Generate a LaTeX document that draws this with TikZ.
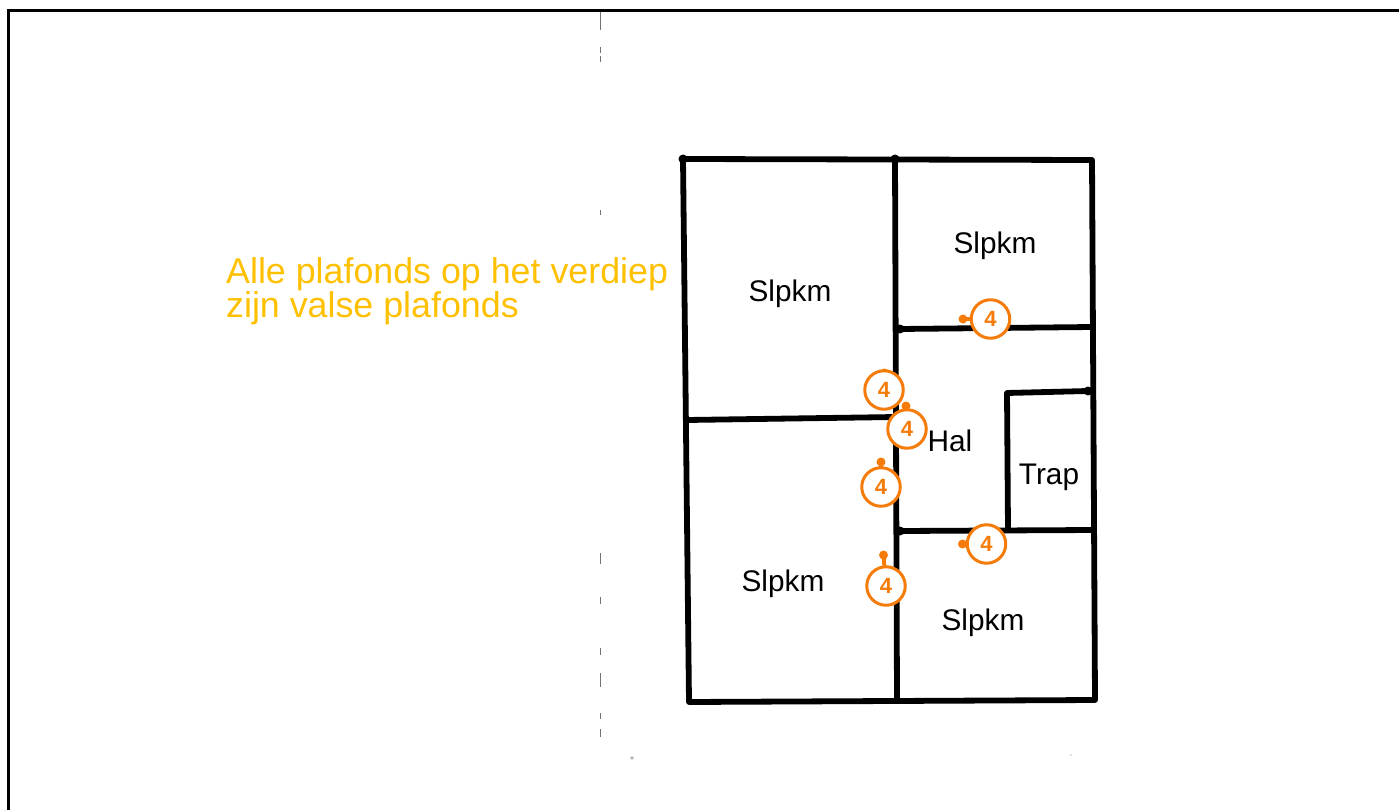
\documentclass[tikz,border=0pt]{standalone}
\usepackage{fontspec}
\setmainfont{Liberation Sans}
\definecolor{markorange}{HTML}{F57C0A}
\definecolor{notegold}{HTML}{FFC000}
\begin{document}
\begin{tikzpicture}[x=1pt,y=-1pt,line join=round,line cap=round]
\tikzstyle{wall}=[draw=black,line width=5.8pt]
\tikzstyle{outline}=[draw=black,line width=3pt,line cap=butt,line join=miter]
\tikzstyle{room}=[text=black,font=\fontsize{29.8}{32}\selectfont,inner sep=0pt]
\tikzstyle{ceilmark}=[circle,draw=markorange,fill=white,line width=3pt,minimum size=38.5pt,inner sep=0pt,text=markorange,font=\fontsize{22}{22}\selectfont\bfseries]
\tikzstyle{markpin}=[circle,fill=markorange,minimum size=9pt,inner sep=0pt]
\tikzstyle{wallend}=[circle,fill=black,minimum size=9pt,inner sep=0pt]
\tikzstyle{foldtick}=[draw=black!55,line width=0.8pt,line cap=butt]
\useasboundingbox (0,0) rectangle (1399,810);
% frame
\coordinate (fa) at (8,810);
\coordinate (fb) at (8,11);
\coordinate (fc) at (1399,11);
\draw[outline] (fa)--(fb)--(fc);
% fold line
\draw[foldtick] (600.7,12)--(600.7,30) (600.7,47)--(600.7,53) (600.7,56)--(600.7,62) (600.7,210)--(600.7,215);
\draw[foldtick] (600.7,553)--(600.7,564) (600.7,597)--(600.7,604) (600.7,648)--(600.7,655);
\draw[foldtick] (600.7,673)--(600.7,687) (600.7,713)--(600.7,719) (600.7,729)--(600.7,737);
\fill[black!30] (632,758) circle (1.8pt);
\fill[black!12] (1071,755) circle (1.4pt);
% walls
\node[wallend] (nw) at (683,159) {};
\node[wallend] (nm) at (895,159) {};
\coordinate (ne) at (1092,160);
\coordinate (se) at (1095,700);
\coordinate (sm) at (897,701);
\coordinate (sw) at (689,702);
\coordinate (wm) at (687,420);
\coordinate (mm) at (896,417);
\node[wallend] (ua) at (900,329) {};
\coordinate (ub) at (1092,327);
\node[wallend] (la) at (900,531) {};
\coordinate (lb) at (1094,530);
\node[wallend] (ta) at (1088,391) {};
\coordinate (tb) at (1007,393);
\coordinate (tc) at (1008,530);
\draw[wall] (nw.center)--(ne)--(se)--(sw)--(nw.center);
\draw[wall] (nm.center)--(sm);
\draw[wall] (wm)--(mm);
\draw[wall] (ua.center)--(ub);
\draw[wall] (la.center)--(lb);
\draw[wall] (ta.center)--(tb)--(tc);
% rooms
\node[room] (r1) at (790,293.5) {Slpkm};
\node[room] (r2) at (995,245.5) {Slpkm};
\node[room] (r3) at (783,583.5) {Slpkm};
\node[room] (r4) at (983,622.5) {Slpkm};
\node[room] (hal) at (950,441) {Hal};
\node[room] (trap) at (1049,477.5) {Trap};
% marks
\node[markpin] (p1) at (963,319) {};
\node[markpin] (p2) at (884.5,373) {};
\node[markpin] (p3) at (906,406) {};
\node[markpin] (p4) at (881,462) {};
\node[markpin] (p5) at (962.5,544) {};
\node[markpin] (p6) at (883.5,555) {};
\draw[markorange,line width=4pt] (p1.center)--(990.5,319) coordinate (q1);
\draw[markorange,line width=4pt] (p3.center)--(907,429) coordinate (q3);
\draw[markorange,line width=4pt] (p4.center)--(881,487) coordinate (q4);
\draw[markorange,line width=4pt] (p5.center)--(986.5,544) coordinate (q5);
\draw[markorange,line width=4pt] (p6.center)--(886,586) coordinate (q6);
\node[ceilmark] (m1) at (q1) {4};
\node[ceilmark] (m2) at (884,390) {4};
\node[ceilmark] (m3) at (q3) {4};
\node[ceilmark] (m4) at (q4) {4};
\node[ceilmark] (m5) at (q5) {4};
\node[ceilmark] (m6) at (q6) {4};
% note
\node[anchor=west,align=left,text=notegold,inner sep=0pt,font=\fontsize{35.8}{33}\selectfont] (note) at (226,291) {Alle plafonds op het verdiep\\zijn valse plafonds};
\end{tikzpicture}
\end{document}
